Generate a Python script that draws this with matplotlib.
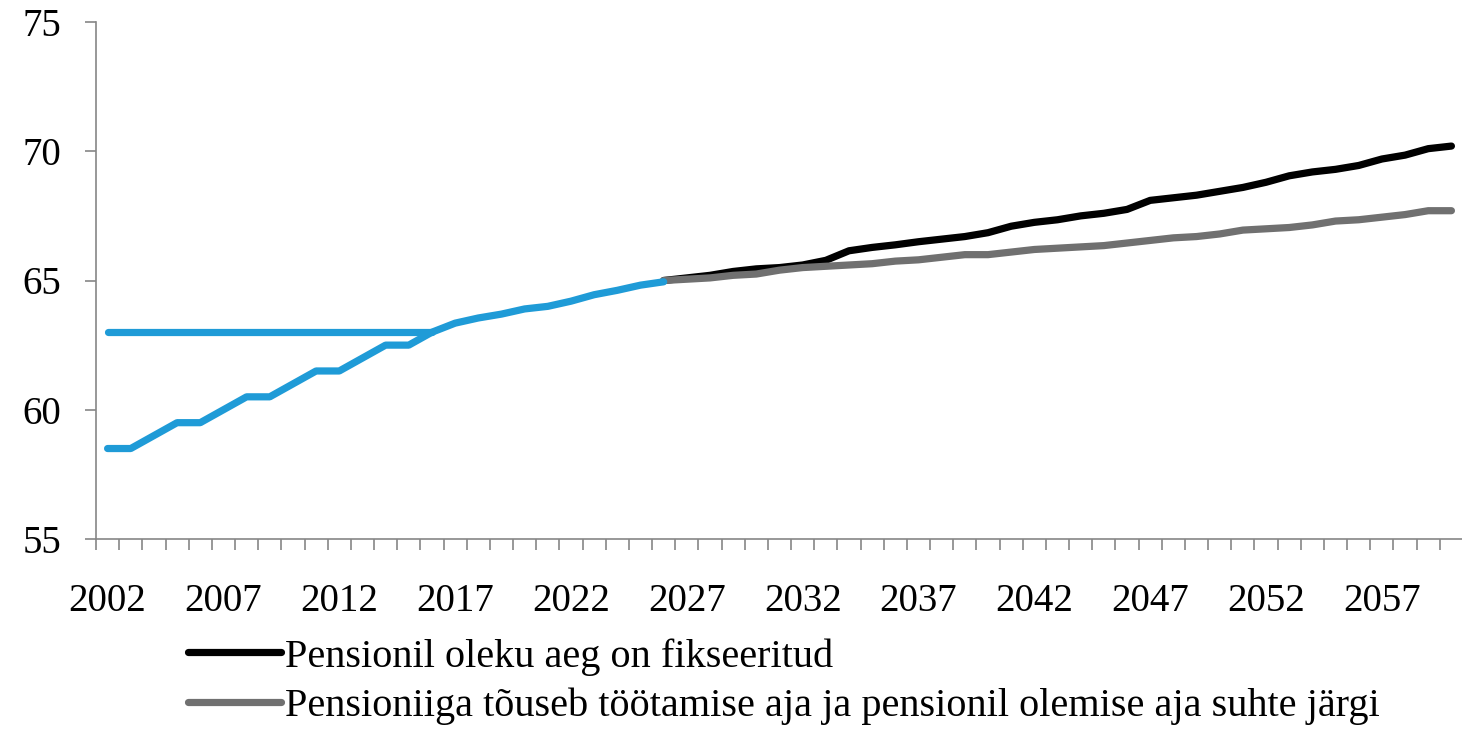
import numpy as np
import matplotlib
matplotlib.use('Agg')
import matplotlib.pyplot as plt

years = list(range(2002, 2061))

# vanaduspensioniiga, naised (tõus) ja mehed (63)
blue_rise = [58.5, 58.5, 59.0, 59.5, 59.5, 60.0, 60.5, 60.5, 61.0, 61.5,
             61.5, 62.0, 62.5, 62.5, 63.0, 63.35, 63.55, 63.7, 63.9, 64.0,
             64.2, 64.45, 64.62, 64.82, 64.95]
blue_flat = [63.0] * 15

fixed = [65.0, 65.1, 65.2, 65.35, 65.45, 65.5, 65.6, 65.78, 66.15, 66.28,
         66.38, 66.5, 66.6, 66.7, 66.85, 67.1, 67.25, 67.35, 67.5, 67.6,
         67.75, 68.1, 68.2, 68.3, 68.45, 68.6, 68.8, 69.05, 69.2, 69.3,
         69.45, 69.7, 69.85, 70.1, 70.2]
ratio = [65.0, 65.05, 65.1, 65.2, 65.25, 65.4, 65.5, 65.55, 65.6, 65.65,
         65.75, 65.8, 65.9, 66.0, 66.0, 66.1, 66.2, 66.25, 66.3, 66.35,
         66.45, 66.55, 66.65, 66.7, 66.8, 66.95, 67.0, 67.05, 67.15, 67.3,
         67.35, 67.45, 67.55, 67.7, 67.7]

labels = ['Pensionil oleku aeg on fikseeritud',
          'Pensioniiga tõuseb töötamise aja ja pensionil olemise aja suhte järgi']

plt.rcParams['font.family'] = ['Liberation Serif', 'DejaVu Serif']

fig = plt.figure(figsize=(14.62, 7.34), dpi=100)
ax = fig.add_axes([96 / 1462, 1 - 539 / 734, 1367 / 1462, 517 / 734])

x = np.arange(len(years))
n_blue = len(blue_rise)
n_future = len(fixed)
x_future = x[len(years) - n_future:]

blue = '#1F9BD7'
lw = 5.2
ax.plot(x[:len(blue_flat)], blue_flat, color=blue, lw=lw, solid_capstyle='round')
l1, = ax.plot(x_future, fixed, color='black', lw=lw, solid_capstyle='round')
l2, = ax.plot(x_future, ratio, color='#707070', lw=lw, solid_capstyle='round')
ax.plot(x[:n_blue], blue_rise, color=blue, lw=lw, solid_capstyle='round',
        solid_joinstyle='round')

ax.set_xlim(-0.5, len(years) - 0.5)
ax.set_ylim(55, 75)
ax.set_yticks([55, 60, 65, 70, 75])

ax.set_xticks(x[::5])
ax.set_xticklabels([str(y) for y in years[::5]])
ax.set_xticks(np.arange(-0.5, len(years)), minor=True)
ax.tick_params(axis='x', which='major', length=0, pad=32, labelsize=28)
ax.tick_params(axis='x', which='minor', length=8, width=1.2, color='#868686')
ax.tick_params(axis='y', length=8, width=1.2, color='#868686', pad=17,
               labelsize=28)

for s in ['top', 'right']:
    ax.spines[s].set_visible(False)
for s in ['left', 'bottom']:
    ax.spines[s].set_color('#868686')
    ax.spines[s].set_linewidth(1.2)

fig.legend([l1, l2], labels, loc='upper left',
           bbox_to_anchor=(188 / 1462, 1 - 638 / 734), frameon=False,
           fontsize=29, handlelength=2.3, handletextpad=0.1,
           labelspacing=0.3, borderaxespad=0, borderpad=0)

fig.savefig('out.png', dpi=100)
